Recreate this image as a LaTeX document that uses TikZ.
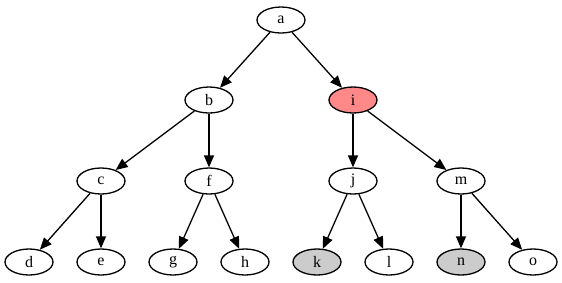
\documentclass[tikz,border=0pt]{standalone}
\usepackage{fontspec}
\setmainfont{Liberation Serif}
\usetikzlibrary{shapes.geometric,arrows.meta}
\definecolor{pinkfill}{RGB}{255,136,136}
\definecolor{grayfill}{RGB}{204,204,204}
\begin{document}
\begin{tikzpicture}[x=1pt,y=-1pt,
  nd/.style={ellipse,draw,line width=1.3pt,minimum width=48pt,minimum height=26pt,inner sep=0pt,font=\fontsize{16}{18}\selectfont},
  ed/.style={line width=1.3pt,-{Triangle[length=12pt,width=10pt]}}]
\useasboundingbox (0,0) rectangle (562,282);
\node[nd] (a) at (281,20) {a};
\node[nd] (b) at (209,100) {b};
\node[nd,fill=pinkfill] (i) at (353,100) {i};
\node[nd] (c) at (101,181) {c};
\node[nd] (f) at (209,181) {f};
\node[nd] (j) at (353,181) {j};
\node[nd] (m) at (461,181) {m};
\node[nd] (d) at (29,262) {d};
\node[nd] (e) at (101,262) {e};
\node[nd] (g) at (173,262) {g};
\node[nd] (h) at (245,262) {h};
\node[nd,fill=grayfill] (k) at (317,262) {k};
\node[nd] (l) at (389,262) {l};
\node[nd,fill=grayfill] (n) at (461,262) {n};
\node[nd] (o) at (533,262) {o};
\foreach \s/\t in {a/b,a/i,b/c,b/f,c/d,c/e,f/g,f/h,i/j,i/m,j/k,j/l,m/n,m/o}
  \draw[ed] (\s) -- (\t);
\end{tikzpicture}
\end{document}
